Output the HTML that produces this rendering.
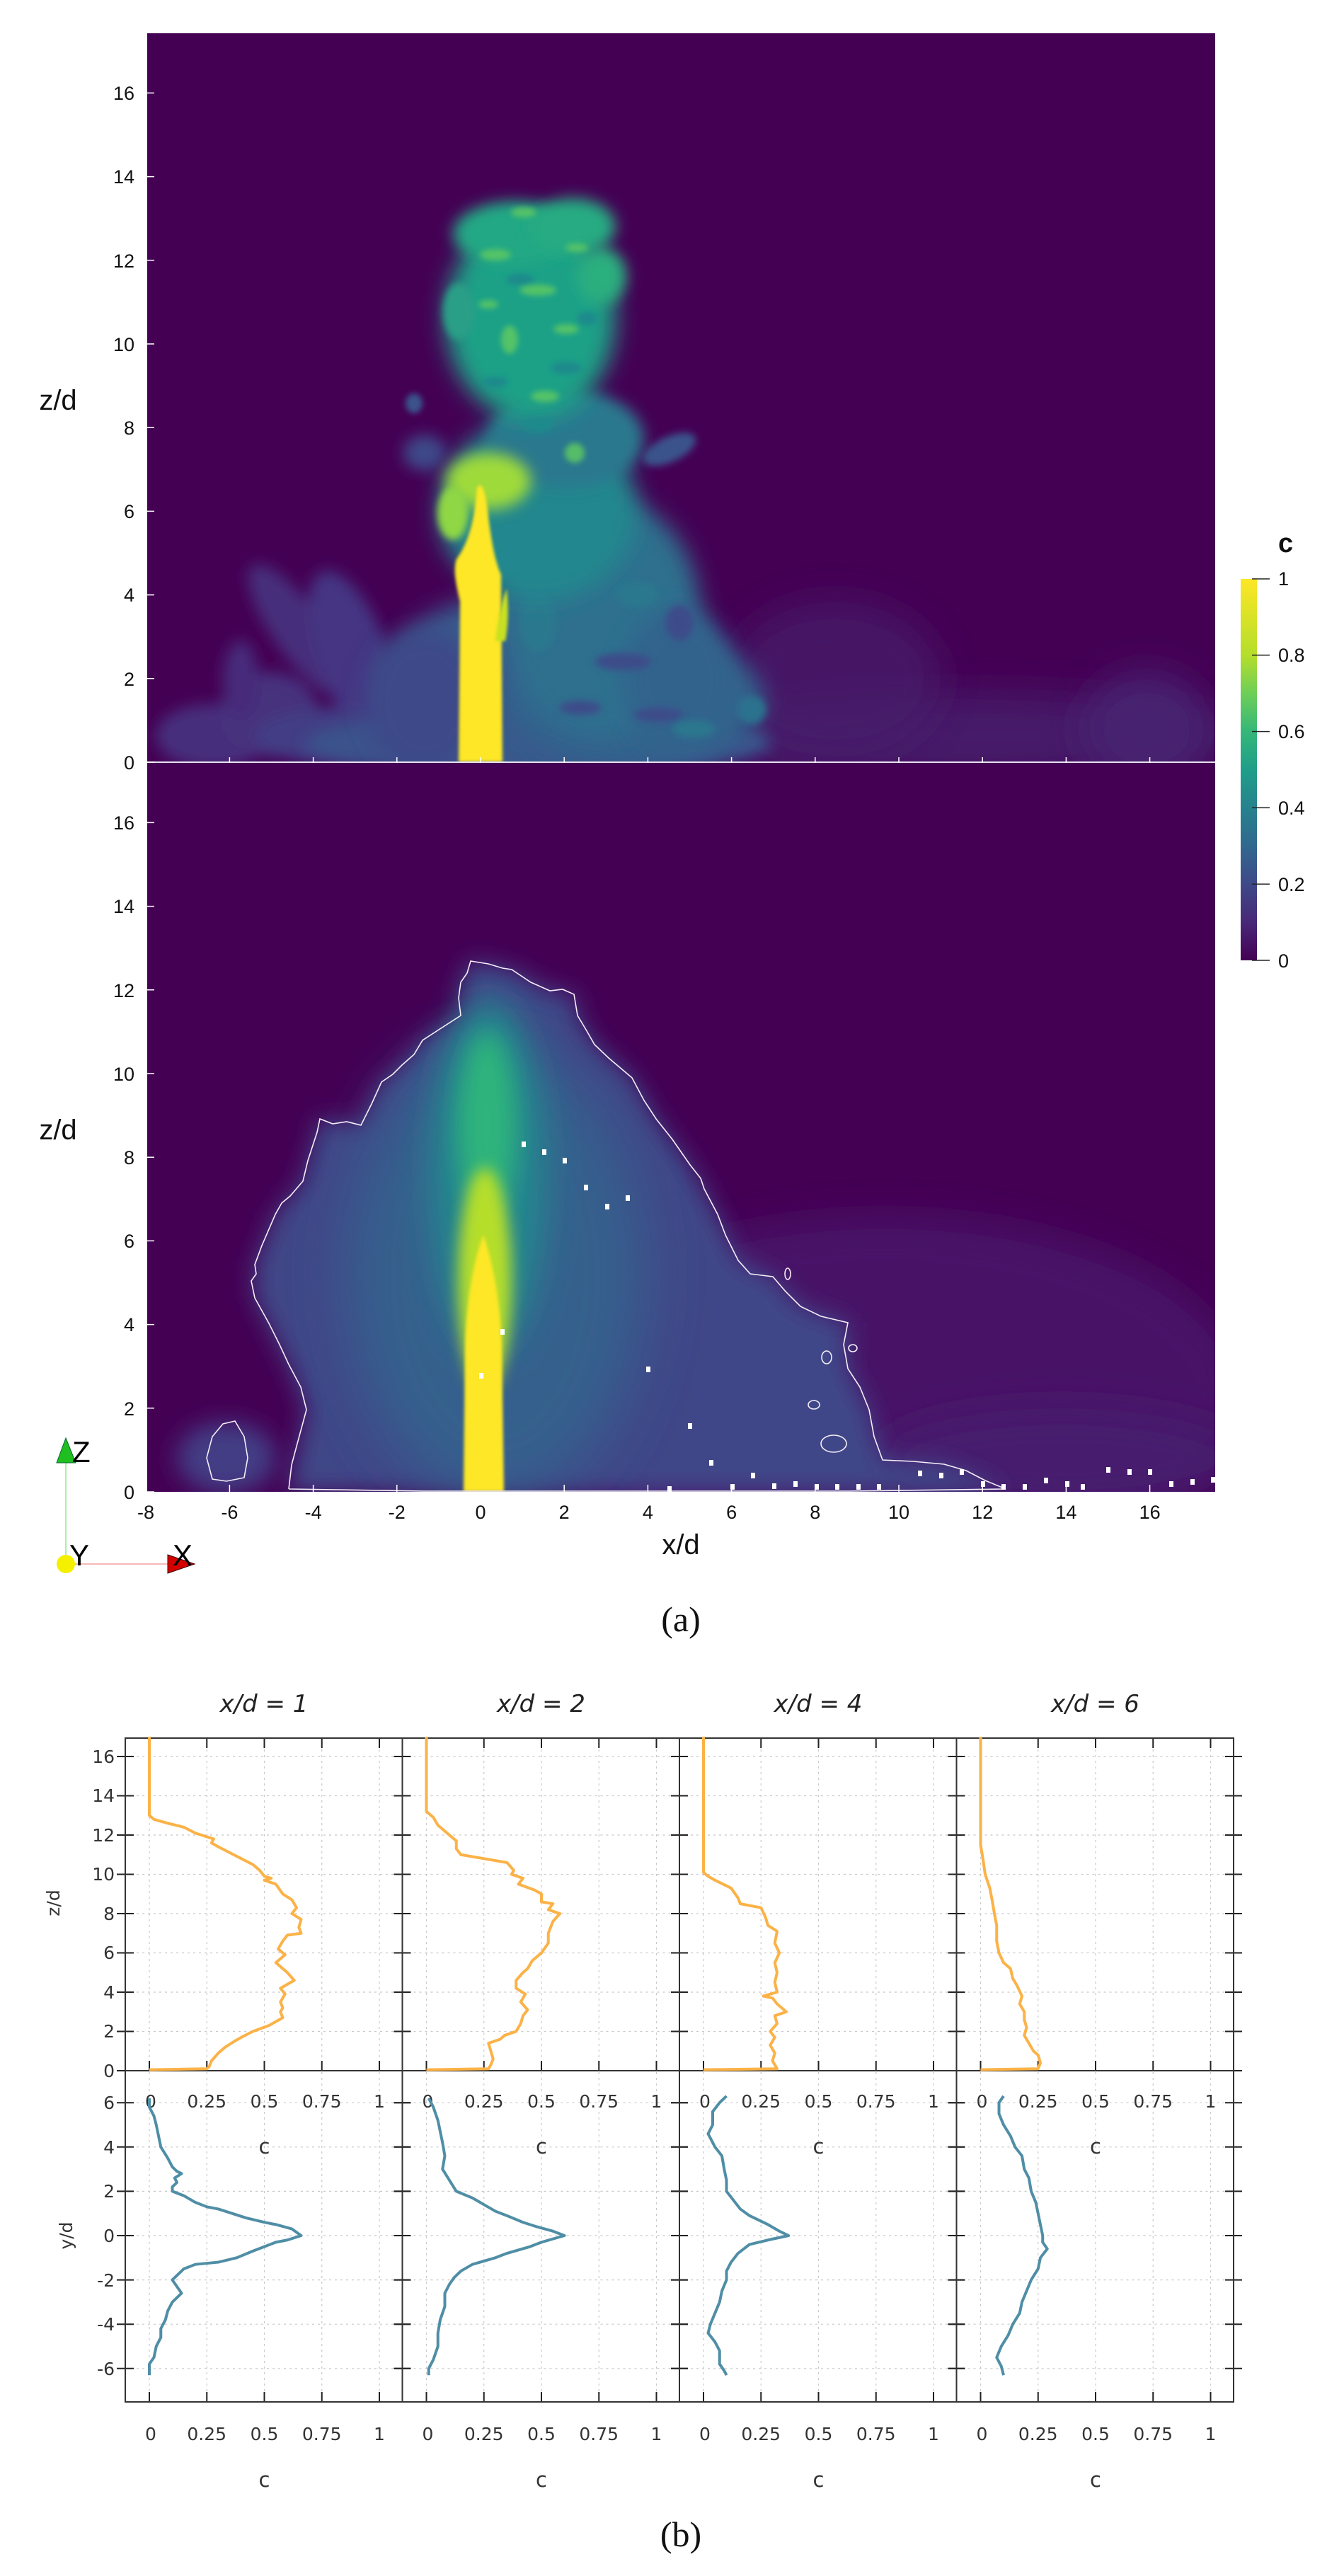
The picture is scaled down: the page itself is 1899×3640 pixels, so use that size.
<!DOCTYPE html>
<html><head><meta charset="utf-8"><style>
html,body{margin:0;padding:0;background:#fff;}
svg{display:block;}
</style></head><body>
<svg width="1899" height="3640" viewBox="0 0 1899 3640" xmlns="http://www.w3.org/2000/svg">
<defs>
<filter id="b2" x="-50%" y="-50%" width="200%" height="200%"><feGaussianBlur stdDeviation="2"/></filter>
<filter id="b4" x="-50%" y="-50%" width="200%" height="200%"><feGaussianBlur stdDeviation="4"/></filter>
<filter id="b5" x="-50%" y="-50%" width="200%" height="200%"><feGaussianBlur stdDeviation="5"/></filter>
<filter id="b10" x="-50%" y="-50%" width="200%" height="200%"><feGaussianBlur stdDeviation="10"/></filter>
<filter id="b16" x="-50%" y="-50%" width="200%" height="200%"><feGaussianBlur stdDeviation="16"/></filter>
<filter id="b25" x="-50%" y="-50%" width="200%" height="200%"><feGaussianBlur stdDeviation="25"/></filter>
<filter id="b40" x="-50%" y="-50%" width="200%" height="200%"><feGaussianBlur stdDeviation="40"/></filter>
<clipPath id="ct"><rect x="208" y="47" width="1509" height="1030"/></clipPath>
<clipPath id="cb"><rect x="208" y="1078" width="1509" height="1030"/></clipPath>
<linearGradient id="vir" x1="0" y1="1" x2="0" y2="0">
<stop offset="0" stop-color="#440154"/><stop offset="0.1" stop-color="#482878"/><stop offset="0.2" stop-color="#3e4989"/><stop offset="0.3" stop-color="#31688e"/><stop offset="0.4" stop-color="#26828e"/><stop offset="0.5" stop-color="#1f9e89"/><stop offset="0.6" stop-color="#35b779"/><stop offset="0.7" stop-color="#6ece58"/><stop offset="0.8" stop-color="#b5de2b"/><stop offset="1" stop-color="#fde725"/>
</linearGradient>
<g id="tmpl">
<g stroke="#c8c8c8" stroke-width="1.2" stroke-dasharray="3,5">
<line x1="34" y1="2456" x2="34" y2="3394"/><line x1="115.25" y1="2456" x2="115.25" y2="3394"/><line x1="196.5" y1="2456" x2="196.5" y2="3394"/><line x1="277.75" y1="2456" x2="277.75" y2="3394"/><line x1="359" y1="2456" x2="359" y2="3394"/>
<line x1="0" y1="2870.5" x2="391.5" y2="2870.5"/><line x1="0" y1="2815" x2="391.5" y2="2815"/><line x1="0" y1="2759.5" x2="391.5" y2="2759.5"/><line x1="0" y1="2704" x2="391.5" y2="2704"/><line x1="0" y1="2648.5" x2="391.5" y2="2648.5"/><line x1="0" y1="2593" x2="391.5" y2="2593"/><line x1="0" y1="2537.5" x2="391.5" y2="2537.5"/><line x1="0" y1="2482" x2="391.5" y2="2482"/>
<line x1="0" y1="2971.2" x2="391.5" y2="2971.2"/><line x1="0" y1="3033.8" x2="391.5" y2="3033.8"/><line x1="0" y1="3096.4" x2="391.5" y2="3096.4"/><line x1="0" y1="3159" x2="391.5" y2="3159"/><line x1="0" y1="3221.6" x2="391.5" y2="3221.6"/><line x1="0" y1="3284.2" x2="391.5" y2="3284.2"/><line x1="0" y1="3346.8" x2="391.5" y2="3346.8"/>
</g>
<g stroke="#222" stroke-width="2">
<path d="M34 2456v14M115.25 2456v14M196.5 2456v14M277.75 2456v14M359 2456v14"/>
<path d="M34 2926v-14M115.25 2926v-14M196.5 2926v-14M277.75 2926v-14M359 2926v-14"/>
<path d="M34 3394v-14M115.25 3394v-14M196.5 3394v-14M277.75 3394v-14M359 3394v-14"/>
<path d="M-12 2926h24M-12 2870.5h24M-12 2815h24M-12 2759.5h24M-12 2704h24M-12 2648.5h24M-12 2593h24M-12 2537.5h24M-12 2482h24"/>
<path d="M-12 2971.2h24M-12 3033.8h24M-12 3096.4h24M-12 3159h24M-12 3221.6h24M-12 3284.2h24M-12 3346.8h24"/>
<path d="M379.5 2926h24M379.5 2870.5h24M379.5 2815h24M379.5 2759.5h24M379.5 2704h24M379.5 2648.5h24M379.5 2593h24M379.5 2537.5h24M379.5 2482h24"/>
<path d="M379.5 2971.2h24M379.5 3033.8h24M379.5 3096.4h24M379.5 3159h24M379.5 3221.6h24M379.5 3284.2h24M379.5 3346.8h24"/>
</g>
<g font-family="DejaVu Sans, sans-serif" font-size="25" fill="#333" text-anchor="middle">
<text x="36" y="2978">0</text><text x="115.25" y="2978">0.25</text><text x="196.5" y="2978">0.5</text><text x="277.75" y="2978">0.75</text><text x="359" y="2978">1</text>
<text x="36" y="3448">0</text><text x="115.25" y="3448">0.25</text><text x="196.5" y="3448">0.5</text><text x="277.75" y="3448">0.75</text><text x="359" y="3448">1</text>
<text x="196.5" y="3043" font-size="29">c</text><text x="196.5" y="3514" font-size="29">c</text>
</g>
</g>
</defs>

<!-- ===== TOP PANEL (a) ===== -->
<g clip-path="url(#ct)">
<rect x="208" y="47" width="1509" height="1030" fill="#440154"/>
<ellipse cx="1350" cy="1040" rx="400" ry="60" fill="#47206e" opacity="0.8" filter="url(#b25)"/>
<ellipse cx="1180" cy="960" rx="150" ry="110" fill="#461c6b" opacity="0.8" filter="url(#b25)"/>
<ellipse cx="1620" cy="1030" rx="90" ry="80" fill="#47236f" filter="url(#b25)"/>
<g filter="url(#b10)">
<ellipse cx="300" cy="1040" rx="80" ry="45" fill="#472f7d"/>
<ellipse cx="380" cy="1010" rx="70" ry="60" fill="#46307e"/>
<ellipse cx="420" cy="890" rx="35" ry="110" fill="#472d7b" transform="rotate(-35 420 890)"/>
<ellipse cx="500" cy="930" rx="50" ry="130" fill="#453582" transform="rotate(-20 500 930)"/>
<ellipse cx="480" cy="1040" rx="120" ry="40" fill="#433e85"/>
<ellipse cx="340" cy="960" rx="25" ry="55" fill="#472b7a"/>
</g>
<ellipse cx="760" cy="1050" rx="330" ry="45" fill="#3b528b" filter="url(#b10)"/>
<ellipse cx="780" cy="960" rx="240" ry="130" fill="#385a8c" filter="url(#b16)"/>
<ellipse cx="900" cy="990" rx="180" ry="90" fill="#33638d" filter="url(#b16)"/>
<ellipse cx="600" cy="990" rx="85" ry="100" fill="#3e4a89" filter="url(#b16)"/>
<ellipse cx="850" cy="870" rx="140" ry="170" fill="#2d708e" filter="url(#b16)"/>
<ellipse cx="960" cy="960" rx="80" ry="100" fill="#33638d" filter="url(#b16)"/>
<g fill="#3d4c8a" filter="url(#b5)">
<ellipse cx="880" cy="935" rx="40" ry="12"/><ellipse cx="930" cy="1010" rx="35" ry="10"/><ellipse cx="820" cy="1000" rx="30" ry="10"/><ellipse cx="960" cy="880" rx="20" ry="25"/>
</g>
<g fill="#2a788e" filter="url(#b5)">
<ellipse cx="980" cy="1030" rx="30" ry="12"/><ellipse cx="760" cy="880" rx="25" ry="40"/><ellipse cx="900" cy="840" rx="30" ry="18"/>
</g>
<ellipse cx="1062" cy="1003" rx="20" ry="20" fill="#2c728e" filter="url(#b5)"/>
<ellipse cx="946" cy="635" rx="40" ry="18" fill="#3b528b" filter="url(#b5)" transform="rotate(-25 946 635)"/>
<ellipse cx="760" cy="720" rx="140" ry="130" fill="#24878e" filter="url(#b16)"/>
<ellipse cx="800" cy="620" rx="110" ry="70" fill="#2a788e" filter="url(#b10)"/>
<ellipse cx="585" cy="570" rx="12" ry="14" fill="#3b528b" filter="url(#b4)"/>
<ellipse cx="600" cy="640" rx="30" ry="25" fill="#3e4a89" filter="url(#b10)"/>
<ellipse cx="750" cy="450" rx="120" ry="145" fill="#1fa187" filter="url(#b16)"/>
<ellipse cx="725" cy="330" rx="85" ry="45" fill="#22a884" filter="url(#b10)"/>
<ellipse cx="810" cy="320" rx="60" ry="40" fill="#25ab82" filter="url(#b10)"/>
<ellipse cx="648" cy="440" rx="22" ry="40" fill="#2a9f87" filter="url(#b5)"/>
<ellipse cx="850" cy="390" rx="35" ry="40" fill="#29af7f" filter="url(#b10)"/>
<g fill="#1f8a8c" filter="url(#b4)">
<ellipse cx="735" cy="395" rx="20" ry="8"/><ellipse cx="800" cy="520" rx="22" ry="9"/><ellipse cx="700" cy="540" rx="18" ry="8"/><ellipse cx="760" cy="600" rx="22" ry="10"/><ellipse cx="830" cy="450" rx="14" ry="10"/>
</g>
<g fill="#5ec962" opacity="0.85" filter="url(#b4)">
<ellipse cx="700" cy="360" rx="22" ry="8"/><ellipse cx="760" cy="410" rx="26" ry="8"/><ellipse cx="720" cy="480" rx="12" ry="20"/><ellipse cx="800" cy="465" rx="18" ry="7"/><ellipse cx="770" cy="560" rx="20" ry="8"/><ellipse cx="812" cy="640" rx="14" ry="14"/><ellipse cx="740" cy="300" rx="18" ry="7"/><ellipse cx="690" cy="430" rx="14" ry="6"/><ellipse cx="815" cy="350" rx="16" ry="6"/>
</g>
<ellipse cx="690" cy="680" rx="60" ry="40" fill="#9fda3a" filter="url(#b10)"/>
<ellipse cx="640" cy="725" rx="22" ry="38" fill="#8fd744" filter="url(#b5)"/>
<path d="M648,1077 L650,850 C644,825 640,805 645,790 C660,770 670,740 674,690 C680,676 688,700 690,730 C694,760 698,790 708,812 L710,1077 Z" fill="#fde725" filter="url(#b2)"/>
<path d="M700,906 C704,870 710,845 716,832 C719,860 718,885 714,906 Z" fill="#c8e020" filter="url(#b2)"/>
</g>
<line x1="208" y1="1077" x2="1717" y2="1077" stroke="#e8e0f0" stroke-width="2"/>
<g stroke="#fff" stroke-width="1.5">
<path d="M208 1077h10M208 958.8h10M208 840.6h10M208 722.4h10M208 604.2h10M208 486h10M208 367.8h10M208 249.6h10M208 131.4h10"/>
<path d="M324.4 1070v14M442.6 1070v14M560.8 1070v14M679 1070v14M797.2 1070v14M915.4 1070v14M1033.6 1070v14M1151.8 1070v14M1270 1070v14M1388.2 1070v14M1506.4 1070v14M1624.6 1070v14"/>
</g>
<g font-family="Liberation Sans, sans-serif" font-size="27" fill="#111">
<g text-anchor="end">
<text x="190" y="1087">0</text><text x="190" y="969">2</text><text x="190" y="850">4</text><text x="190" y="732">6</text><text x="190" y="614">8</text><text x="190" y="496">10</text><text x="190" y="378">12</text><text x="190" y="259">14</text><text x="190" y="141">16</text>
</g>
<g text-anchor="middle">
<text x="324.4" y="1113">-6</text><text x="442.6" y="1113">-4</text><text x="560.8" y="1113">-2</text><text x="679" y="1113">0</text><text x="797.2" y="1113">2</text><text x="915.4" y="1113">4</text><text x="1033.6" y="1113">6</text><text x="1151.8" y="1113">8</text><text x="1270" y="1113">10</text><text x="1388.2" y="1113">12</text><text x="1506.4" y="1113">14</text><text x="1624.6" y="1113">16</text>
</g>
<text x="962" y="1165" font-size="40" text-anchor="middle">x/d</text>
<text x="82" y="579" font-size="40" text-anchor="middle">z/d</text>
</g>

<!-- ===== BOTTOM PANEL (a) ===== -->
<g clip-path="url(#cb)">
<rect x="208" y="1078" width="1509" height="1030" fill="#440154"/>
<ellipse cx="1250" cy="1960" rx="500" ry="240" fill="#48196b" opacity="0.9" filter="url(#b25)"/>
<ellipse cx="1500" cy="2060" rx="260" ry="70" fill="#471f6e" filter="url(#b25)"/>
<polygon points="408,2108 433,1992 408,1928 360,1834 360,1787 389,1716 428,1669 452,1581 510,1590 539,1529 568,1505 597,1470 651,1435 651,1388 665,1358 723,1370 777,1400 811,1405 816,1435 840,1476 893,1523 927,1581 975,1646 1014,1716 1043,1781 1092,1804 1131,1846 1198,1869 1198,1934 1228,1992 1247,2063 1334,2069 1392,2092 1421,2108" fill="#3f4788" filter="url(#b16)"/>
<ellipse cx="320" cy="2060" rx="70" ry="50" fill="#433e85" filter="url(#b16)"/>
<ellipse cx="700" cy="1800" rx="210" ry="320" fill="#35608d" filter="url(#b40)"/>
<ellipse cx="690" cy="1660" rx="80" ry="250" fill="#23898e" filter="url(#b25)"/>
<ellipse cx="688" cy="1590" rx="40" ry="130" fill="#2fb47c" filter="url(#b16)"/>
<ellipse cx="685" cy="1810" rx="38" ry="160" fill="#b5de2b" filter="url(#b10)"/>
<path d="M655,2108 L657,1900 C660,1830 670,1780 683,1745 C695,1780 706,1830 709,1900 L712,2108 Z" fill="#fde725" filter="url(#b2)"/>
<g fill="none" stroke="#f4eef8" stroke-width="1.6">
<polyline points="408,2104 412,2070 420,2040 433,1992 425,1960 408,1928 395,1900 380,1870 360,1834 355,1810 362,1800 360,1787 370,1760 389,1716 398,1700 410,1690 428,1669 435,1640 448,1600 452,1581 470,1588 490,1585 510,1590 525,1560 539,1529 555,1518 568,1505 585,1490 597,1470 620,1455 651,1435 648,1410 651,1388 660,1375 665,1358 690,1362 710,1368 723,1370 750,1388 777,1400 795,1398 811,1405 816,1435 828,1455 840,1476 860,1495 893,1523 910,1555 927,1581 950,1610 975,1646 990,1665 995,1680 1014,1716 1025,1745 1043,1781 1060,1800 1092,1804 1110,1825 1131,1846 1160,1860 1198,1869 1192,1900 1198,1934 1215,1960 1228,1992 1235,2030 1247,2063 1290,2065 1334,2069 1365,2078 1392,2092 1421,2104 1200,2107 900,2107 600,2107 408,2104"/>
<polygon points="300,2090 292,2060 300,2030 315,2012 332,2008 345,2030 350,2060 345,2088 320,2093"/>
<ellipse cx="1168" cy="1918" rx="7" ry="9"/><ellipse cx="1205" cy="1905" rx="6" ry="5"/><ellipse cx="1178" cy="2040" rx="18" ry="12"/><ellipse cx="1150" cy="1985" rx="8" ry="6"/><ellipse cx="1113" cy="1800" rx="4" ry="8"/>
</g>
<g fill="#fff">
<rect x="737" y="1613" width="6" height="8"/><rect x="766" y="1624" width="6" height="8"/><rect x="795" y="1636" width="6" height="8"/><rect x="825" y="1674" width="6" height="8"/><rect x="855" y="1701" width="6" height="8"/><rect x="884" y="1689" width="6" height="8"/><rect x="707" y="1878" width="6" height="8"/><rect x="677" y="1940" width="6" height="8"/><rect x="913" y="1931" width="6" height="8"/><rect x="972" y="2011" width="6" height="8"/><rect x="1002" y="2063" width="6" height="8"/><rect x="1061" y="2081" width="6" height="8"/><rect x="943" y="2100" width="6" height="8"/><rect x="1032" y="2097" width="6" height="8"/><rect x="1091" y="2096" width="6" height="8"/><rect x="1121" y="2093" width="6" height="8"/><rect x="1151" y="2097" width="6" height="8"/><rect x="1180" y="2097" width="6" height="8"/><rect x="1210" y="2097" width="6" height="8"/><rect x="1239" y="2097" width="6" height="8"/><rect x="1297" y="2078" width="6" height="8"/><rect x="1327" y="2081" width="6" height="8"/><rect x="1356" y="2076" width="6" height="8"/><rect x="1386" y="2093" width="6" height="8"/><rect x="1415" y="2097" width="6" height="8"/><rect x="1445" y="2097" width="6" height="8"/><rect x="1475" y="2088" width="6" height="8"/><rect x="1505" y="2093" width="6" height="8"/><rect x="1527" y="2097" width="6" height="8"/><rect x="1563" y="2073" width="6" height="8"/><rect x="1593" y="2076" width="6" height="8"/><rect x="1622" y="2076" width="6" height="8"/><rect x="1652" y="2093" width="6" height="8"/><rect x="1682" y="2090" width="6" height="8"/><rect x="1711" y="2087" width="6" height="8"/>
</g>
</g>
<g stroke="#fff" stroke-width="1.5">
<path d="M208 2108h10M208 1989.8h10M208 1871.6h10M208 1753.4h10M208 1635.2h10M208 1517h10M208 1398.8h10M208 1280.6h10M208 1162.4h10"/>
<path d="M324.4 2098v10M442.6 2098v10M560.8 2098v10M797.2 2098v10M915.4 2098v10M1033.6 2098v10M1151.8 2098v10M1270 2098v10M1388.2 2098v10M1506.4 2098v10M1624.6 2098v10"/>
</g>
<g font-family="Liberation Sans, sans-serif" font-size="27" fill="#111">
<g text-anchor="end">
<text x="190" y="2118">0</text><text x="190" y="2000">2</text><text x="190" y="1881">4</text><text x="190" y="1763">6</text><text x="190" y="1645">8</text><text x="190" y="1527">10</text><text x="190" y="1409">12</text><text x="190" y="1290">14</text><text x="190" y="1172">16</text>
</g>
<g text-anchor="middle">
<text x="206" y="2146">-8</text><text x="324.4" y="2146">-6</text><text x="442.6" y="2146">-4</text><text x="560.8" y="2146">-2</text><text x="679" y="2146">0</text><text x="797.2" y="2146">2</text><text x="915.4" y="2146">4</text><text x="1033.6" y="2146">6</text><text x="1151.8" y="2146">8</text><text x="1270" y="2146">10</text><text x="1388.2" y="2146">12</text><text x="1506.4" y="2146">14</text><text x="1624.6" y="2146">16</text>
</g>
<text x="962" y="2196" font-size="40" text-anchor="middle">x/d</text>
<text x="82" y="1610" font-size="40" text-anchor="middle">z/d</text>
</g>

<!-- colorbar -->
<rect x="1753" y="818" width="23" height="539" fill="url(#vir)"/>
<g stroke="#222" stroke-width="1.5">
<path d="M1769 818h25M1769 925.8h25M1769 1033.6h25M1769 1141.4h25M1769 1249.2h25M1769 1357h25"/>
</g>
<g font-family="Liberation Sans, sans-serif" font-size="27" fill="#111">
<text x="1806" y="827">1</text><text x="1806" y="935">0.8</text><text x="1806" y="1043">0.6</text><text x="1806" y="1151">0.4</text><text x="1806" y="1259">0.2</text><text x="1806" y="1367">0</text>
<text x="1806" y="780" font-size="38" font-weight="bold">c</text>
</g>

<!-- triad -->
<line x1="93" y1="2067" x2="93" y2="2210" stroke="#8ee88e" stroke-width="1.5"/>
<line x1="93" y1="2210" x2="240" y2="2210" stroke="#f4a0a0" stroke-width="1.5"/>
<polygon points="93,2032 80,2067 107,2067" fill="#1fbf1f" stroke="#063" stroke-width="1"/>
<polygon points="275,2210 237,2197 237,2223" fill="#d40000" stroke="#300" stroke-width="1"/>
<circle cx="93" cy="2210" r="13" fill="#f5f000"/>
<g font-family="Liberation Sans, sans-serif" font-size="42" fill="#000">
<text x="102" y="2066">Z</text><text x="98" y="2212">Y</text><text x="244" y="2212">X</text>
</g>

<text x="962" y="2305" font-family="Liberation Serif, serif" font-size="50" text-anchor="middle" fill="#111">(a)</text>

<!-- ===== (b) ===== -->
<use href="#tmpl" x="177"/>
<use href="#tmpl" x="568.5"/>
<use href="#tmpl" x="960"/>
<use href="#tmpl" x="1351.5"/>
<g fill="none" stroke="#333" stroke-width="2">
<rect x="177" y="2456" width="1566" height="938"/>
<line x1="177" y1="2926" x2="1743" y2="2926"/>
<line x1="568.5" y1="2456" x2="568.5" y2="3394"/>
<line x1="960" y1="2456" x2="960" y2="3394"/>
<line x1="1351.5" y1="2456" x2="1351.5" y2="3394"/>
</g>
<g font-family="DejaVu Sans, sans-serif" font-size="25" fill="#333" text-anchor="end">
<text x="162" y="2935">0</text><text x="162" y="2879">2</text><text x="162" y="2824">4</text><text x="162" y="2768">6</text><text x="162" y="2713">8</text><text x="162" y="2657">10</text><text x="162" y="2602">12</text><text x="162" y="2546">14</text><text x="162" y="2491">16</text>
<text x="162" y="2980">6</text><text x="162" y="3043">4</text><text x="162" y="3105">2</text><text x="162" y="3168">0</text><text x="162" y="3231">-2</text><text x="162" y="3293">-4</text><text x="162" y="3356">-6</text>
</g>
<g font-family="DejaVu Sans, sans-serif" font-size="25" fill="#333" text-anchor="middle">
<text transform="translate(84 2689) rotate(-90)">z/d</text>
<text transform="translate(102 3159) rotate(-90)">y/d</text>
</g>
<g font-family="DejaVu Sans, sans-serif" font-size="34" font-style="italic" fill="#222" text-anchor="middle">
<text x="373" y="2419">x/d = 1</text><text x="764.5" y="2419">x/d = 2</text><text x="1156" y="2419">x/d = 4</text><text x="1547.5" y="2419">x/d = 6</text>
</g>

<g fill="none" stroke="#fbb247" stroke-width="4" stroke-linejoin="round">
<g transform="translate(211 2926) scale(325 -27.75)"><polyline vector-effect="non-scaling-stroke" points="0,17 0,13 0.02,12.8 0.08,12.6 0.15,12.4 0.2,12.1 0.28,11.8 0.27,11.6 0.3,11.4 0.35,11.1 0.4,10.8 0.45,10.5 0.48,10.2 0.5,9.9 0.53,9.8 0.5,9.7 0.55,9.5 0.58,9.0 0.62,8.7 0.64,8.3 0.62,8.0 0.66,7.7 0.65,7.3 0.66,7.0 0.6,6.9 0.58,6.6 0.56,6.2 0.59,5.9 0.55,5.5 0.58,5.2 0.6,5.0 0.63,4.6 0.6,4.4 0.57,4.2 0.59,3.9 0.57,3.5 0.58,3.2 0.57,3.0 0.58,2.7 0.52,2.3 0.45,2.0 0.4,1.7 0.37,1.5 0.33,1.2 0.3,0.9 0.27,0.5 0.26,0.2 0.25,0.1 0,0.05"/></g>
<g transform="translate(602.5 2926) scale(325 -27.75)"><polyline vector-effect="non-scaling-stroke" points="0,17 0,13.2 0.03,12.9 0.05,12.5 0.08,12.2 0.1,12.0 0.13,11.7 0.13,11.3 0.15,11.0 0.25,10.8 0.35,10.6 0.38,10.2 0.37,10.0 0.42,9.8 0.4,9.5 0.47,9.2 0.5,9.0 0.5,8.6 0.55,8.5 0.53,8.2 0.58,8.0 0.55,7.6 0.53,7.0 0.53,6.5 0.5,6.0 0.46,5.6 0.44,5.2 0.42,5.0 0.39,4.6 0.39,4.2 0.43,3.9 0.41,3.5 0.44,3.1 0.42,2.8 0.41,2.4 0.39,2.0 0.34,1.8 0.32,1.6 0.27,1.4 0.28,1.0 0.29,0.6 0.28,0.3 0.27,0.1 0,0.05"/></g>
<g transform="translate(994 2926) scale(325 -27.75)"><polyline vector-effect="non-scaling-stroke" points="0,17 0,10.1 0.02,9.9 0.05,9.7 0.12,9.3 0.15,8.8 0.16,8.5 0.25,8.3 0.27,7.8 0.28,7.4 0.32,7.1 0.31,6.5 0.33,6.0 0.31,5.5 0.32,5.0 0.31,4.5 0.32,4.0 0.26,3.8 0.3,3.7 0.32,3.4 0.36,3.0 0.31,2.8 0.32,2.4 0.29,2.0 0.31,1.7 0.29,1.3 0.31,0.9 0.3,0.5 0.32,0.1 0,0.05"/></g>
<g transform="translate(1385.5 2926) scale(325 -27.75)"><polyline vector-effect="non-scaling-stroke" points="0,17 0,11.5 0.01,10.8 0.02,10 0.04,9.3 0.05,8.7 0.06,8.0 0.07,7.4 0.07,6.6 0.08,6.0 0.1,5.5 0.13,5.2 0.14,4.7 0.16,4.3 0.18,3.8 0.17,3.4 0.19,3.0 0.19,2.6 0.2,2.2 0.19,1.8 0.21,1.4 0.23,1.0 0.25,0.8 0.26,0.4 0.25,0.1 0,0.05"/></g>
</g>
<g fill="none" stroke="#4f8ea6" stroke-width="4" stroke-linejoin="round">
<g transform="translate(211 3159) scale(325 -31.3)"><polyline vector-effect="non-scaling-stroke" points="0,6.2 0,5.8 0.02,5.4 0.03,5.0 0.04,4.5 0.05,4.0 0.08,3.5 0.1,3.1 0.12,2.9 0.14,2.8 0.11,2.6 0.12,2.4 0.1,2.2 0.1,2.0 0.15,1.8 0.2,1.5 0.25,1.3 0.3,1.2 0.36,1.0 0.42,0.8 0.5,0.6 0.55,0.5 0.62,0.3 0.66,0.0 0.6,-0.2 0.55,-0.3 0.5,-0.5 0.45,-0.7 0.38,-1.0 0.3,-1.2 0.2,-1.3 0.15,-1.5 0.12,-1.8 0.1,-2.0 0.12,-2.3 0.14,-2.6 0.12,-2.8 0.1,-3.0 0.08,-3.4 0.07,-3.8 0.05,-4.2 0.05,-4.6 0.03,-5.0 0.02,-5.5 0,-5.8 0,-6.3"/></g>
<g transform="translate(602.5 3159) scale(325 -31.3)"><polyline vector-effect="non-scaling-stroke" points="0.01,6.2 0.03,5.8 0.05,5.2 0.06,4.7 0.07,4.2 0.08,3.6 0.07,3.0 0.1,2.5 0.13,2.0 0.2,1.7 0.25,1.4 0.3,1.1 0.35,0.9 0.42,0.6 0.48,0.4 0.55,0.2 0.6,0.0 0.5,-0.3 0.45,-0.5 0.35,-0.8 0.3,-1.0 0.2,-1.3 0.15,-1.6 0.12,-1.9 0.1,-2.2 0.08,-2.6 0.08,-3.2 0.06,-3.8 0.05,-4.4 0.05,-5.0 0.03,-5.6 0.01,-6.0 0.01,-6.3"/></g>
<g transform="translate(994 3159) scale(325 -31.3)"><polyline vector-effect="non-scaling-stroke" points="0.1,6.3 0.07,6.0 0.04,5.6 0.04,5.0 0.02,4.6 0.05,4.0 0.08,3.6 0.09,3.0 0.1,2.5 0.1,2.0 0.13,1.6 0.16,1.2 0.2,0.9 0.28,0.5 0.33,0.2 0.37,0.0 0.28,-0.2 0.2,-0.4 0.15,-0.8 0.12,-1.2 0.1,-1.6 0.1,-2.0 0.08,-2.5 0.07,-3.0 0.05,-3.5 0.03,-4.0 0.02,-4.4 0.05,-4.8 0.07,-5.2 0.07,-5.8 0.09,-6.1 0.1,-6.3"/></g>
<g transform="translate(1385.5 3159) scale(325 -31.3)"><polyline vector-effect="non-scaling-stroke" points="0.1,6.3 0.08,6.0 0.08,5.5 0.1,5.0 0.13,4.5 0.15,4.0 0.18,3.6 0.19,3.0 0.21,2.6 0.22,2.0 0.24,1.5 0.25,1.0 0.26,0.5 0.27,0.0 0.27,-0.3 0.29,-0.6 0.26,-1.0 0.25,-1.5 0.22,-2.0 0.2,-2.5 0.18,-3.0 0.17,-3.5 0.14,-4.0 0.12,-4.5 0.09,-5.0 0.07,-5.5 0.09,-5.9 0.1,-6.3"/></g>
</g>

<text x="962" y="3598" font-family="Liberation Serif, serif" font-size="50" text-anchor="middle" fill="#111">(b)</text>
</svg>
</body></html>
